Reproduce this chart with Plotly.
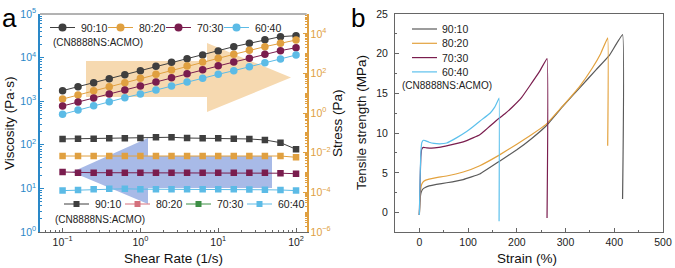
import plotly.graph_objects as go

# ---------------- data: panel a ----------------
shear_rate = [0.1, 0.158, 0.251, 0.398, 0.631, 1.0, 1.585, 2.512, 3.981, 6.31,
              10.0, 15.85, 25.12, 39.81, 63.1, 100.0]

stress_9010 = [13.6, 21.6, 34.3, 54.6, 86.9, 138, 229, 364, 557, 853, 1358, 2248, 3311, 5070, 7180, 8070]
stress_8020 = [5.1, 8.2, 13.6, 21.6, 34.3, 56.8, 90.4, 150, 238, 378, 579, 922, 1469, 2248, 3311, 4880]
stress_7030 = [2.28, 3.63, 5.78, 9.2, 14.7, 23.3, 37.1, 61.4, 97.7, 155, 247, 378, 579, 922, 1413, 2000]
stress_6040 = [0.87, 1.43, 2.37, 3.77, 6.0, 9.2, 14.7, 23.3, 37.1, 56.8, 90.4, 138, 220, 351, 537, 853]

visc_9010 = [136, 138, 138, 141, 141, 143, 149, 149, 143, 141, 141, 138, 136, 129, 112, 79]
visc_8020 = [55.3, 55.3, 55.3, 55.3, 55.3, 55.3, 55.3, 55.3, 55.3, 55.3, 55.3, 55.3, 55.3, 55.3, 55.3, 51.7]
visc_7030 = [23.8, 22.9, 22.9, 22.9, 22.9, 22.9, 22.9, 22.9, 22.9, 22.9, 22.9, 22.9, 22.9, 22.9, 22.3, 21.7]
visc_6040 = [8.9, 9.2, 9.5, 9.8, 9.8, 9.6, 9.6, 9.6, 9.5, 9.5, 9.5, 9.5, 9.4, 9.3, 9.2, 8.9]

ratios = ["90:10", "80:20", "70:30", "60:40"]
note = "(CN8888NS:ACMO)"

x_exponents = [-1, 0, 1, 2]
visc_exponents = [0, 1, 2, 3, 4, 5]
stress_exponents = [-6, -4, -2, 0, 2, 4]

# ---------------- data: panel b ----------------
strain_9010 = [0, 1, 2, 4, 7, 12, 20, 35, 56, 90, 124, 163, 200, 230, 260, 294, 329, 363, 390, 417, 417]
tensile_9010 = [-0.3, 1.2, 2.0, 2.6, 2.95, 3.15, 3.35, 3.55, 3.75, 4.15, 4.85, 6.4, 7.9, 9.3, 10.9, 13.35, 15.7, 18.0, 19.8, 22.4, 1.7]

strain_8020 = [0, 1, 2, 4, 7, 12, 20, 35, 56, 90, 124, 163, 200, 230, 260, 294, 329, 355, 372, 386.5, 386.5]
tensile_8020 = [-0.3, 1.5, 2.5, 3.4, 3.8, 4.05, 4.2, 4.4, 4.6, 5.1, 5.9, 7.2, 8.6, 9.8, 11.1, 13.4, 15.9, 18.2, 20.0, 22.0, 8.4]

strain_7030 = [0, 1, 2, 3, 5, 8, 15, 25, 40, 60, 90, 110, 124, 134, 145, 158, 175, 192, 210, 226, 247, 262, 262]
tensile_7030 = [-0.3, 2.5, 5.0, 7.0, 8.0, 8.2, 8.15, 8.1, 8.2, 8.45, 8.9, 9.4, 9.8, 10.3, 10.9, 11.6, 12.4, 13.35, 14.5, 15.9, 17.8, 19.4, -0.7]

strain_6040 = [0, 1, 2, 3, 5, 8, 12, 20, 30, 42, 56, 76, 97, 110, 124, 145, 155, 162, 163.6, 163.6]
tensile_6040 = [-0.3, 3.0, 5.5, 7.5, 8.8, 9.1, 9.05, 8.85, 8.7, 8.65, 8.75, 9.4, 10.2, 10.8, 11.5, 12.5, 13.3, 14.2, 14.4, -1.1]

# ---------------- styling ----------------
W, H = 675, 268
COL = ["#3f3f3f", "#e0a040", "#7a1d4e", "#5cbbe6"]
COL_B = ["#5a5a5a", "#e3a23e", "#7a1d4e", "#5cc0ec"]
LEG2_COL = ["#3f3f3f", "#d4707c", "#3d8f45", "#5cbbe6"]
BLUE_AX = "#2a88c8"
ORANGE_AX = "#e0a040"
FONT = "Liberation Sans, Arial, sans-serif"


def px(x):
    return x / W


def py(y):
    return 1 - y / H


def pw(t):
    return "10<sup>%s</sup>" % ("\u2212%d" % -t if t < 0 else "%d" % t)


fig = go.Figure()

stress_sets = [stress_9010, stress_8020, stress_7030, stress_6040]
visc_sets = [visc_9010, visc_8020, visc_7030, visc_6040]

for name, s, c in zip(ratios, stress_sets, COL):
    fig.add_trace(go.Scatter(
        x=shear_rate, y=s, name=name + " stress", mode="lines+markers", showlegend=False,
        line=dict(color=c, width=1), marker=dict(color=c, size=7.5, symbol="circle"),
        xaxis="x", yaxis="y2"))

for name, v, c in zip(ratios, visc_sets, COL):
    fig.add_trace(go.Scatter(
        x=shear_rate, y=v, name=name + " viscosity", mode="lines+markers", showlegend=False,
        line=dict(color=c, width=1), marker=dict(color=c, size=6.5, symbol="square"),
        xaxis="x", yaxis="y"))

strains = [strain_9010, strain_8020, strain_7030, strain_6040]
tensiles = [tensile_9010, tensile_8020, tensile_7030, tensile_6040]
for name, sx, sy, c in zip(ratios, strains, tensiles, COL_B):
    fig.add_trace(go.Scatter(
        x=sx, y=sy, name=name, mode="lines", showlegend=False,
        line=dict(color=c, width=1.2, shape="spline", smoothing=0.25),
        xaxis="x2", yaxis="y3"))

# domains
ax_dom = [px(40), px(306.7)]
bx_dom = [px(395), px(663)]
y_dom = [py(232), py(14)]

tickfont = dict(family=FONT, size=10.5, color="#222")

fig.update_layout(
    width=W, height=H, template="none", showlegend=False,
    margin=dict(l=0, r=0, t=0, b=0),
    paper_bgcolor="white", plot_bgcolor="rgba(0,0,0,0)",
    font=dict(family=FONT, size=11, color="#222"),
    xaxis=dict(domain=ax_dom, type="log", range=[-1.29, 2.137], anchor="y",
               showline=True, linecolor="#666", linewidth=1, mirror=False,
               ticks="inside", ticklen=4, tickcolor="#666",
               tickmode="array", tickvals=[10 ** e for e in x_exponents],
               ticktext=[pw(e) for e in x_exponents],
               showgrid=False, zeroline=False,
               minor=dict(ticks="inside", ticklen=2, dtick="D1", tickcolor="#666"),
               tickfont=tickfont, automargin=False),
    yaxis=dict(domain=y_dom, type="log", range=[0, 5], anchor="x",
               showline=True, linecolor=BLUE_AX, linewidth=1.5,
               ticks="inside", ticklen=4, tickcolor=BLUE_AX,
               tickmode="array", tickvals=[10 ** e for e in visc_exponents],
               ticktext=[pw(e) for e in visc_exponents],
               showgrid=False, zeroline=False,
               minor=dict(ticks="inside", ticklen=2, dtick="D1", tickcolor=BLUE_AX),
               tickfont=dict(family=FONT, size=10.5, color=BLUE_AX), automargin=False),
    yaxis2=dict(type="log", range=[-6, 5], overlaying="y", side="right", anchor="x",
                showline=True, linecolor=ORANGE_AX, linewidth=1.5,
                ticks="inside", ticklen=4, tickcolor=ORANGE_AX,
                tickmode="array", tickvals=[10.0 ** e for e in stress_exponents],
                ticktext=[pw(e) for e in stress_exponents],
                showgrid=False, zeroline=False,
                minor=dict(ticks="inside", ticklen=2, dtick="D1", tickcolor=ORANGE_AX),
                tickfont=dict(family=FONT, size=10.5, color=ORANGE_AX), automargin=False),
    xaxis2=dict(domain=bx_dom, range=[-50, 500], anchor="y3",
                showline=True, linecolor="#666", linewidth=1, mirror=True,
                ticks="inside", ticklen=4, tickcolor="#666", dtick=100,
                showgrid=False, zeroline=False,
                minor=dict(ticks="inside", ticklen=2, dtick=50, tickcolor="#666"),
                tickfont=tickfont, automargin=False),
    yaxis3=dict(domain=y_dom, range=[-2.45, 25], anchor="x2",
                showline=True, linecolor="#666", linewidth=1, mirror=True,
                ticks="inside", ticklen=4, tickcolor="#666", dtick=5,
                showgrid=False, zeroline=False, ticklabelstandoff=4,
                minor=dict(ticks="inside", ticklen=2, dtick=2.5, tickcolor="#666"),
                tickfont=tickfont, automargin=False),
)

# top frame line for panel a
fig.add_shape(type="line", xref="paper", yref="paper", x0=ax_dom[0], x1=ax_dom[1],
              y0=y_dom[1], y1=y_dom[1], line=dict(color="#666", width=1))


def path_of(pts):
    return "M " + " L ".join(f"{px(a):.5f},{py(b):.5f}" for a, b in pts) + " Z"


# big decorative arrows (body rectangle + head triangle each)
ORANGE_FILL = "rgb(246,217,176)"
BLUE_FILL = "rgb(168,186,231)"
fig.add_shape(type="path", xref="paper", yref="paper",
              path=path_of([(86, 61), (208, 61), (208, 97), (86, 97)]),
              fillcolor=ORANGE_FILL, line=dict(width=0), layer="below")
fig.add_shape(type="path", xref="paper", yref="paper",
              path=path_of([(207, 43), (291, 77.5), (207, 112)]),
              fillcolor=ORANGE_FILL, line=dict(width=0), layer="below")
fig.add_shape(type="path", xref="paper", yref="paper",
              path=path_of([(147, 156), (272, 156), (272, 188), (147, 188)]),
              fillcolor=BLUE_FILL, line=dict(width=0), layer="below")
fig.add_shape(type="path", xref="paper", yref="paper",
              path=path_of([(148, 138), (72, 172), (148, 204)]),
              fillcolor=BLUE_FILL, line=dict(width=0), layer="below")


def text(t, x, y, size=10.5, anchor="left", angle=0, color="#222"):
    fig.add_annotation(text=t, x=px(x), y=py(y), xref="paper", yref="paper",
                       xanchor=anchor, yanchor="middle", showarrow=False, textangle=angle,
                       font=dict(family=FONT, size=size, color=color))


# ---- legend keys (drawn as decorations) ----
for k, (name, c) in enumerate(zip(ratios, COL)):
    x0 = 50 + 58 * k
    yk = 27.5
    fig.add_shape(type="line", xref="paper", yref="paper", x0=px(x0), x1=px(x0 + 25),
                  y0=py(yk), y1=py(yk), line=dict(color=c, width=1))
    fig.add_shape(type="circle", xref="paper", yref="paper", x0=px(x0 + 8.5), x1=px(x0 + 16.5),
                  y0=py(yk + 4), y1=py(yk - 4), fillcolor=c, line=dict(width=0))
    text(name, x0 + 29, yk)
text(note, 51, 43, size=10)

for k, (name, c) in enumerate(zip(ratios, LEG2_COL)):
    x0 = 64 + 61 * k
    yk = 204
    fig.add_shape(type="line", xref="paper", yref="paper", x0=px(x0), x1=px(x0 + 25),
                  y0=py(yk), y1=py(yk), line=dict(color=c, width=1))
    fig.add_shape(type="rect", xref="paper", yref="paper", x0=px(x0 + 9.5), x1=px(x0 + 15.5),
                  y0=py(yk + 3), y1=py(yk - 3), fillcolor=c, line=dict(width=0))
    text(name, x0 + 29, yk)
text(note, 53, 219, size=10)

for k, (name, c) in enumerate(zip(ratios, COL_B)):
    yk = 29 + 14.3 * k
    fig.add_shape(type="line", xref="paper", yref="paper", x0=px(412), x1=px(437),
                  y0=py(yk), y1=py(yk), line=dict(color=c, width=1.2))
    text(name, 440, yk, size=10.5)
text(note, 400, 86, size=10)

# axis titles
text("Viscosity (Pa·s)", 10, 123, size=13.5, anchor="center", angle=-90, color="#111")
text("Stress (Pa)", 338, 123, size=13.5, anchor="center", angle=-90, color="#111")
text("Tensile strength (MPa)", 362, 123, size=13.5, anchor="center", angle=-90, color="#111")
text("Shear Rate (1/s)", 173, 258, size=13.5, anchor="center", color="#111")
text("Strain (%)", 527, 258, size=13.5, anchor="center", color="#111")

# panel letters
text("a", 9, 18, size=26, anchor="center", color="#000")
text("b", 358, 18, size=26, anchor="center", color="#000")

fig.write_html("out.html", config={"displayModeBar": False},
               post_script="document.body.style.margin='0';document.body.style.padding='0';")
